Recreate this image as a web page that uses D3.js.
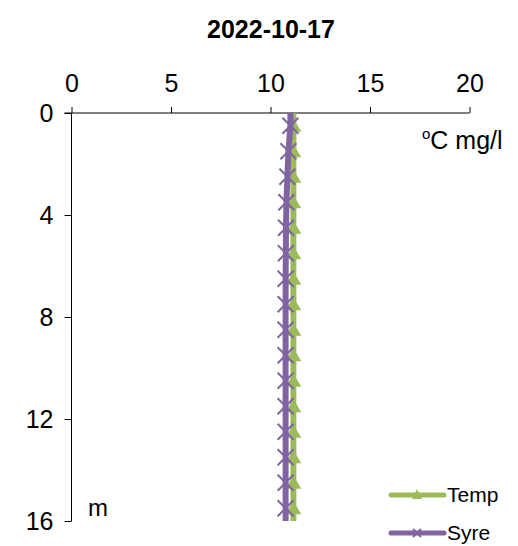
<!DOCTYPE html>
<html>
<head>
<meta charset="utf-8">
<script src="https://cdn.jsdelivr.net/npm/d3@7"></script>
<style>
  html, body { margin: 0; padding: 0; background: #fff; }
  svg { display: block; font-family: Arial, "Liberation Sans", sans-serif; }
</style>
</head>
<body>
<svg id="chart" width="518" height="546"></svg>
<script>
// Depth profile, 2022-10-17
const title = "2022-10-17";
const depths = [0, 0.5, 1.5, 2.5, 3.5, 4.5, 5.5, 6.5, 7.5, 8.5, 9.5, 10.5, 11.5, 12.5, 13.5, 14.5, 15.5, 16];
const temp   = [11.15, 11.15, 11.15, 11.15, 11.15, 11.15, 11.15, 11.15, 11.15, 11.15, 11.15, 11.15, 11.15, 11.15, 11.15, 11.15, 11.15, 11.15];
const syre   = [11.0, 11.0, 10.9, 10.85, 10.8, 10.78, 10.77, 10.76, 10.76, 10.76, 10.76, 10.76, 10.76, 10.76, 10.76, 10.76, 10.76, 10.76];
const xTicks = [0, 5, 10, 15, 20];
const yTicks = [0, 4, 8, 12, 16];
const seriesNames = ["Temp", "Syre"];
const colors = ["#9BBB59", "#8064A2"];

const svg = d3.select("#chart");
const x = d3.scaleLinear().domain([0, 20]).range([71.5, 469.5]);
const y = d3.scaleLinear().domain([0, 16]).range([113, 521]);

// title
svg.append("text").attr("x", 271).attr("y", 38).attr("text-anchor", "middle")
  .attr("font-size", 25).attr("font-weight", "bold").text(title);

// top value axis
const xAxis = svg.append("g").attr("transform", `translate(0,${y(0)})`)
  .call(d3.axisTop(x).tickValues(xTicks).tickSize(6).tickPadding(15).tickFormat(d3.format("d")));
// left depth axis
const yAxis = svg.append("g").attr("transform", `translate(${x(0)},0)`)
  .call(d3.axisLeft(y).tickValues(yTicks).tickSize(7).tickPadding(11).tickFormat(d3.format("d")));
[xAxis, yAxis].forEach(g => {
  g.select(".domain").attr("stroke", "#000").attr("stroke-width", 1);
  g.selectAll(".tick line").attr("stroke", "#000");
  g.selectAll(".tick text").attr("font-size", 25).attr("font-family", "Arial, 'Liberation Sans', sans-serif").attr("fill", "#000");
});
xAxis.select(".domain").attr("d", `M${x(0) - 7},0H${x(20)}`);
yAxis.select(".domain").attr("d", `M0,${y(0)}V${y(16)}`);

// unit labels
const unit = svg.append("text").attr("x", 422).attr("y", 149).attr("font-size", 25);
unit.append("tspan").attr("font-size", 15).attr("dy", -10).text("o");
unit.append("tspan").attr("dy", 10).text("C mg/l");
svg.append("text").attr("x", 88).attr("y", 516).attr("font-size", 24).text("m");

const line = d3.line().x(d => x(d[0])).y(d => y(d[1]));
const triangle = "M0,-7L8,6L-8,6Z";

function drawSeries(values, i) {
  const pts = depths.map((d, k) => [values[k], d]);
  svg.append("path").datum(pts).attr("d", line).attr("fill", "none")
    .attr("stroke", colors[i]).attr("stroke-width", 6).attr("stroke-linejoin", "round");
  const marked = pts.filter(p => p[1] % 1 === 0.5);
  if (i === 0) {
    svg.selectAll(null).data(marked).enter().append("path")
      .attr("d", triangle).attr("fill", colors[i])
      .attr("transform", p => `translate(${x(p[0])},${y(p[1])})`);
  } else {
    svg.selectAll(null).data(marked).enter().append("path")
      .attr("d", "M-8,-8L8,8M-8,8L8,-8").attr("stroke", colors[i]).attr("stroke-width", 2)
      .attr("fill", "none")
      .attr("transform", p => `translate(${x(p[0])},${y(p[1])})`);
  }
}
drawSeries(temp, 0);
drawSeries(syre, 1);

// legend
seriesNames.forEach((name, i) => {
  const ly = 495 + i * 38;
  const g = svg.append("g");
  g.append("line").attr("x1", 391).attr("x2", 444).attr("y1", ly).attr("y2", ly)
    .attr("stroke", colors[i]).attr("stroke-width", 5).attr("stroke-linecap", "round");
  if (i === 0) {
    g.append("path").attr("d", "M0,-6L5,4L-5,4Z")
      .attr("fill", colors[i]).attr("transform", `translate(417,${ly})`);
  } else {
    g.append("path").attr("d", "M-4,-4L4,4M-4,4L4,-4").attr("stroke", colors[i])
      .attr("stroke-width", 2).attr("transform", `translate(417,${ly})`);
  }
  g.append("text").attr("x", 447).attr("y", ly + 7).attr("font-size", 21).text(name);
});
</script>
</body>
</html>
